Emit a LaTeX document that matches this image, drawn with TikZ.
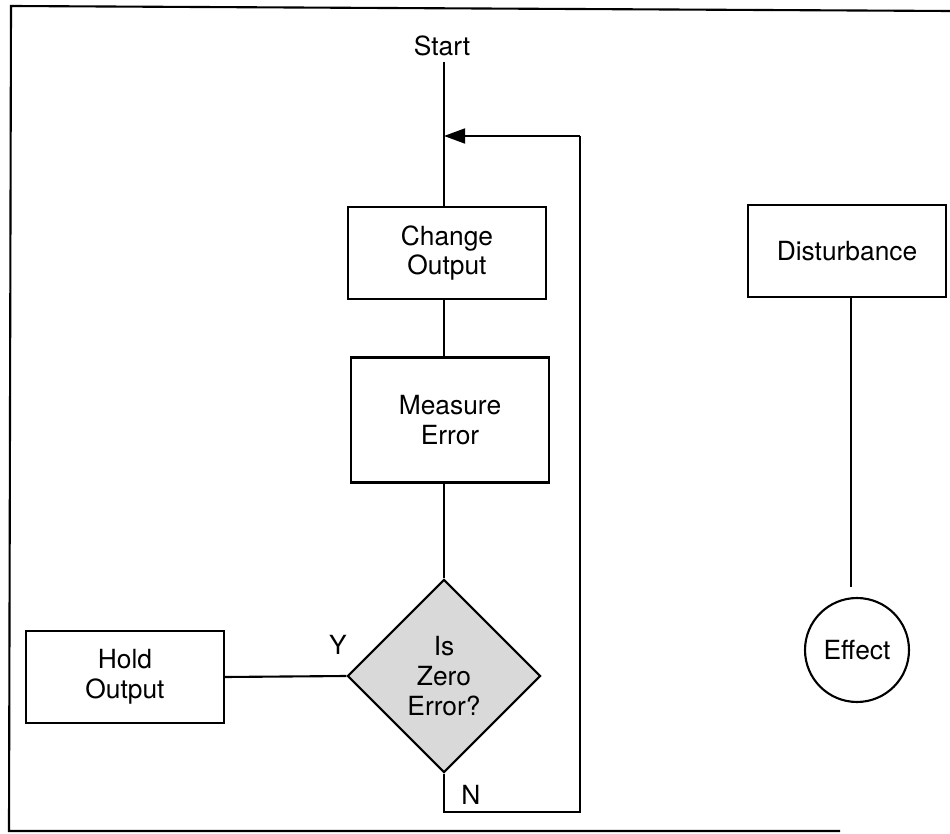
\documentclass[tikz,border=0pt]{standalone}
\usepackage{fontspec}
\setmainfont{TeX Gyre Heros}
\usetikzlibrary{shapes.geometric, arrows.meta}

\begin{document}
\begin{tikzpicture}[x=0.02cm, y=-0.02cm]
	\tikzstyle{Process} = [rectangle, minimum width=3.96cm, minimum height=1.84cm, align=center, draw=black, line width=1.2pt, fill=white, font=\fontsize{15}{17}\selectfont]
	\tikzstyle{Decision} = [diamond, aspect=1, minimum width=3.86cm, minimum height=3.86cm, inner sep=0pt, align=center, draw=black, line width=1.2pt, fill=gray!30, font=\fontsize{15}{17}\selectfont]
	\tikzstyle{Result} = [circle, minimum size=2.08cm, inner sep=0pt, draw=black, line width=1.2pt, font=\fontsize{15}{17}\selectfont]
	\tikzstyle{Label} = [font=\fontsize{15}{17}\selectfont]
	\tikzstyle{line} = [line width=1.2pt]
	\tikzstyle{arrow} = [line width=1.2pt, -{Triangle[length=12pt, width=8.5pt]}]

	\useasboundingbox (0,0) rectangle (950,834);

	% frame
	\draw [line] (950,11) -- (11,6) -- (9,831) -- (840,831);

	\node (start) [Label] at (442,46) {Start};
	\node (change) [Process] at (447,253) {Change\\Output};
	\node (measure) [Process, minimum height=2.5cm] at (450,420) {Measure\\Error};
	\node (zero) [Decision] at (444,676) {Is\\Zero\\Error?};
	\node (hold) [Process] at (125,677) {Hold\\Output};
	\node (dist) [Process] at (847,251) {Disturbance};
	\node (effect) [Result] at (857,650) {Effect};
	\node (yes) [Label] at (338,645) {Y};
	\node (no) [Label] at (471,795) {N};

	\coordinate (loopRight) at (580,812);
	\coordinate (loopTop) at (580,136);
	\coordinate (effectTop) at (851,587);

	\draw [line] (zero.north |- start.south) -- (zero.north |- change.north);
	\draw [line] (zero.north |- change.south) -- (zero.north |- measure.north);
	\draw [line] (zero.north |- measure.south) -- (zero.north);
	\draw [line] (zero.west) -- (hold.east);
	\draw [line] (zero.south) -- (zero.south |- loopRight) -- (loopRight) -- (loopTop);
	\draw [arrow] (loopTop) -- (loopTop -| zero.north);
	\draw [line] (effectTop |- dist.south) -- (effectTop);
\end{tikzpicture}
\end{document}
